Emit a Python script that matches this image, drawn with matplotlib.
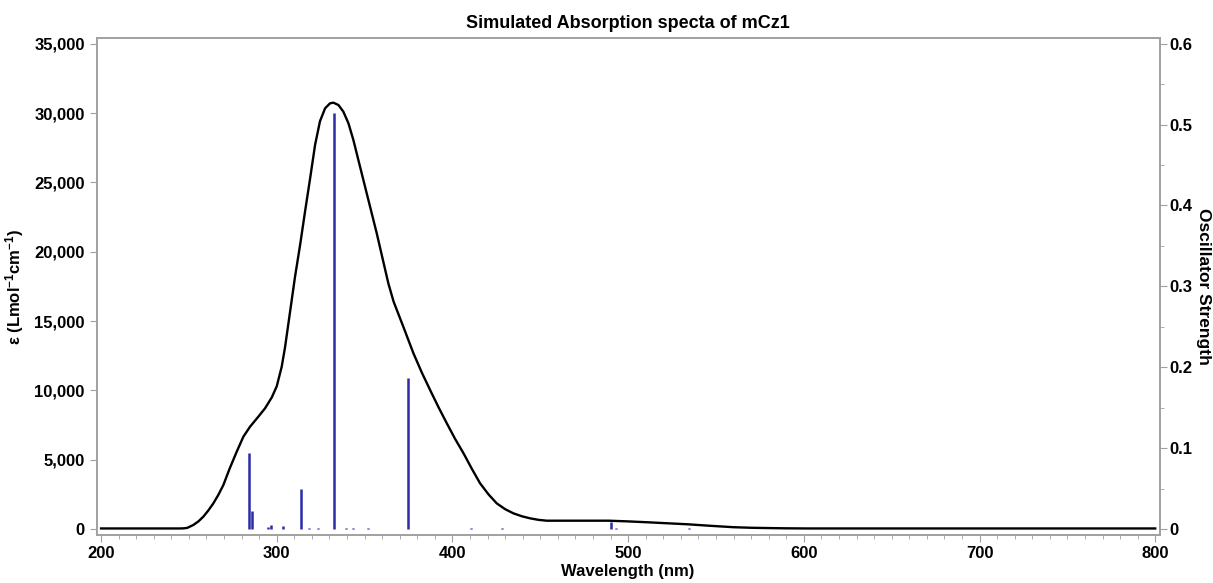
import numpy as np
import matplotlib.pyplot as plt
from matplotlib.ticker import MultipleLocator, FuncFormatter

plt.rcParams['font.family'] = ['Liberation Sans', 'DejaVu Sans']
plt.rcParams['font.weight'] = 'bold'
plt.rcParams['mathtext.fontset'] = 'custom'
plt.rcParams['mathtext.rm'] = 'Liberation Sans:bold'
plt.rcParams['mathtext.default'] = 'rm'

# simulated spectrum
wl = [200, 245, 247, 249, 252.5, 255.5, 258.2, 261, 263.9, 266.7, 269.6, 273,
      277.2, 281, 284.8, 289.5, 293.3, 297.2, 300, 302.8, 304.7, 306.6, 308.5,
      310.4, 313.3, 316.1, 319, 321.8, 324.6, 327.5, 330.3, 332.2, 335.1, 337.9,
      340.8, 343.6, 347.4, 351.2, 356.9, 363.5, 366.5, 372, 377.8, 382.5, 387.3,
      392, 396.8, 401.5, 406.3, 411, 415.7, 420.5, 425.2, 430, 434.7, 439.5,
      444.2, 449, 453.7, 472.6, 489, 500, 512, 523, 534, 547, 560, 570, 579,
      590, 602, 800]
eps = [40, 40, 50, 80, 290, 560, 890, 1330, 1850, 2450, 3170, 4300,
       5575, 6660, 7380, 8100, 8700, 9500, 10300, 11700, 13100, 14800, 16500,
       18200, 20500, 22900, 25300, 27700, 29410, 30340, 30700, 30750, 30580, 30100,
       29260, 28060, 26130, 24210, 21330, 17720, 16400, 14600, 12670, 11300, 10020,
       8800, 7620, 6500, 5460, 4350, 3300, 2500, 1850, 1430, 1130, 920,
       770, 660, 600, 600, 600, 550, 480, 410, 340, 230, 130, 90, 70,
       50, 40, 40]

# oscillator strengths
stick_wl = [284.2, 285.9, 294.9, 296.8, 303.4, 313.7, 318.6, 323.7, 332.4,
            339.6, 343.2, 352.1, 374.9, 410.4, 428.1, 490.1, 493.1, 534.5]
stick_f = [0.094, 0.0226, 0.003, 0.005, 0.004, 0.050, 0.0015, 0.0015, 0.514,
           0.0015, 0.0015, 0.0015, 0.187, 0.0015, 0.0015, 0.009, 0.0015, 0.0015]

spine_c = '#a0a0a0'

fig = plt.figure(figsize=(12.13, 5.83), dpi=100)
ax = fig.add_axes([0.0797, 0.0823, 0.8763, 0.853])
ax2 = ax.twinx()

ax.plot(wl, eps, color='black', lw=1.7, zorder=3, solid_joinstyle='round')
ax2.vlines(stick_wl, 0, stick_f, color='#2b2ba8', lw=1.8)

ylo, yhi = -433, 35433
ax.set_xlim(197.5, 802.5)
ax.set_ylim(ylo, yhi)
ax2.set_ylim(ylo * 0.6 / 35000, yhi * 0.6 / 35000)

ax.set_zorder(ax2.get_zorder() + 1)
ax.patch.set_visible(False)

ax.xaxis.set_major_locator(MultipleLocator(100))
ax.xaxis.set_minor_locator(MultipleLocator(10))
ax.yaxis.set_major_locator(MultipleLocator(5000))
ax.yaxis.set_major_formatter(FuncFormatter(lambda v, p: f'{int(v):,}'))
ax2.yaxis.set_major_locator(MultipleLocator(0.1))
ax2.yaxis.set_minor_locator(MultipleLocator(0.05))
ax2.yaxis.set_major_formatter(FuncFormatter(lambda v, p: '0' if abs(v) < 1e-9 else f'{v:.1f}'))

for a in (ax, ax2):
    for s in a.spines.values():
        s.set_color(spine_c)
        s.set_linewidth(1.2)
    a.tick_params(which='both', color=spine_c, labelsize=12, direction='out')
    a.tick_params(which='major', length=5)
    a.tick_params(which='minor', length=3)
ax.tick_params(axis='x', pad=3)
ax2.tick_params(axis='y', pad=2)

ax.set_title('Simulated Absorption specta of mCz1', fontsize=13, fontweight='bold', pad=7)
ax.set_xlabel('Wavelength (nm)', fontsize=12, fontweight='bold', labelpad=2)
ax.set_ylabel(r'ε (Lmol$^{-1}$cm$^{-1}$)', fontsize=12, fontweight='bold', labelpad=6)
ax2.set_ylabel('Oscillator Strength', fontsize=12.5, fontweight='bold', rotation=270,
               va='center', ha='center')
ax2.yaxis.set_label_coords(1.0415, 0.5)

fig.savefig('out.png', dpi=100)
